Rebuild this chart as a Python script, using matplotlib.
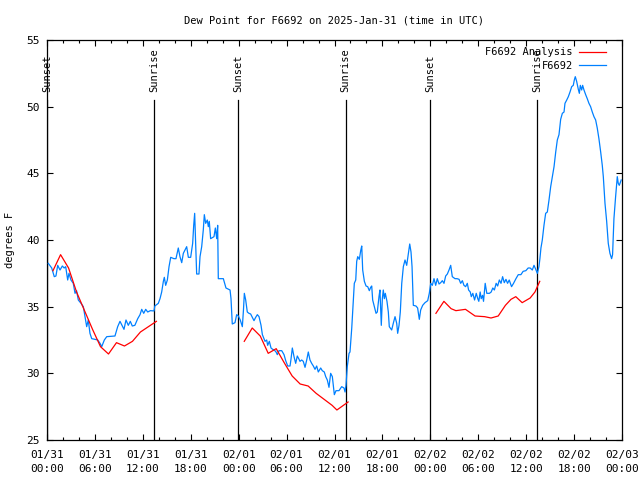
import matplotlib
matplotlib.use("Agg")
import matplotlib.pyplot as plt
import matplotlib.transforms as mtransforms

plt.rcParams['font.family'] = ['DejaVu Sans Mono']

title = "Dew Point for F6692 on 2025-Jan-31 (time in UTC)"
ylabel = "degrees F"

# hours since 2025-01-31 00:00 UTC
blue_h = [0.16, 0.59, 0.91, 1.12, 1.34, 1.63, 1.92, 2.15, 2.34, 2.59, 2.75, 3.0, 3.29, 3.51, 3.7, 3.92,
          4.26, 4.55, 4.76, 4.97, 5.17, 5.38, 5.6, 6.01, 6.35, 6.64, 6.85, 7.18, 7.48, 8.51, 8.85, 9.14,
          9.43, 9.64, 9.89, 10.18, 10.43, 10.68, 11.0, 11.36, 11.65, 11.86, 12.11, 12.36, 12.61, 12.94,
          13.4, 13.5, 13.94, 14.15, 14.36, 14.57, 14.69, 14.86, 15.07, 15.28, 15.49, 15.9, 16.15, 16.32,
          16.44, 16.65, 16.87, 17.07, 17.28, 17.49, 17.7, 17.99, 18.24, 18.37, 18.49, 18.62, 18.74, 19.03,
          19.16, 19.37, 19.57, 19.7, 19.87, 20.07, 20.2, 20.32, 20.49, 20.91, 21.08, 21.25, 21.37, 21.45,
          22.08, 22.41, 22.92, 23.04, 23.2, 23.54, 23.75, 23.96, 24.2, 24.46, 24.6, 24.71, 24.88, 25.08,
          25.29, 25.5, 25.71, 25.92, 26.13, 26.34, 26.55, 26.8, 26.97, 27.17, 27.3, 27.51, 27.63, 27.84,
          28.05, 28.26, 28.46, 28.68, 28.84, 29.05, 29.39, 29.68, 29.89, 30.14, 30.43, 30.55, 30.72, 30.93,
          31.14, 31.34, 31.52, 31.68, 31.89, 32.09, 32.31, 32.52, 32.72, 32.93, 33.14, 33.35, 33.56, 33.77,
          33.97, 34.27, 34.47, 34.72, 34.9, 35.1, 35.31, 35.52, 35.73, 35.98, 36.19, 36.56, 36.9, 37.19,
          37.32, 37.44, 37.6, 37.82, 37.94, 38.16, 38.36, 38.48, 38.66, 38.78, 38.91, 39.11, 39.28, 39.41,
          39.53, 39.74, 39.95, 40.16, 40.36, 40.53, 40.66, 40.78, 40.99, 41.2, 41.36, 41.57, 41.69, 41.86,
          41.99, 42.11, 42.24, 42.36, 42.57, 42.74, 42.86, 43.16, 43.36, 43.58, 43.79, 43.91, 44.08, 44.24,
          44.42, 44.62, 44.83, 45.04, 45.25, 45.42, 45.58, 45.71, 45.87, 46.2, 46.41, 46.62, 46.79, 47.04,
          47.33, 47.67, 47.87, 48.05, 48.25, 48.46, 48.67, 48.87, 49.09, 49.3, 49.5, 49.71, 49.92, 50.13,
          50.34, 50.55, 50.75, 51.09, 51.35, 51.6, 51.8, 52.01, 52.21, 52.42, 52.63, 52.79, 53.0, 53.13,
          53.32, 53.54, 53.75, 53.94, 54.07, 54.24, 54.37, 54.54, 54.66, 54.87, 55.07, 55.4, 55.62, 55.82,
          56.02, 56.24, 56.43, 56.64, 56.85, 57.05, 57.26, 57.47, 57.67, 57.88, 58.17, 58.42, 58.72, 59.01,
          59.34, 59.62, 59.96, 60.25, 60.5, 60.77, 60.98, 61.2, 61.4, 61.6, 61.72, 61.85, 62.02, 62.23,
          62.44, 62.65, 62.86, 63.07, 63.28, 63.49, 63.7, 63.9, 64.11, 64.32, 64.53, 64.74, 64.86, 65.08,
          65.28, 65.49, 65.7, 65.9, 66.03, 66.15, 66.32, 66.53, 66.66, 66.78, 66.95, 67.07, 67.24, 67.45,
          67.65, 67.86, 68.07, 68.28, 68.49, 68.7, 68.9, 69.11, 69.33, 69.53, 69.66, 69.87, 70.08, 70.28,
          70.49, 70.7, 70.82, 70.99, 71.2, 71.41, 71.53, 71.66, 71.9]
blue_v = [38.25, 37.9, 37.25, 37.3, 38.1, 37.75, 38.05, 37.9, 38.0, 37.0, 37.5, 37.0, 36.75, 36.0, 36.2, 35.5,
          35.25, 35.0, 34.25, 33.5, 34.0, 33.0, 32.6, 32.55, 32.5, 32.25, 32.0, 32.5, 32.75, 32.8, 33.5, 33.9,
          33.55, 33.3, 34.0, 33.6, 33.9, 33.55, 33.6, 34.1, 34.4, 34.8, 34.5, 34.8, 34.6, 34.7,
          34.68, 35.05, 35.25, 35.6, 36.1, 36.9, 37.2, 36.6, 37.0, 38.0, 38.7, 38.6, 38.6, 39.05,
          39.4, 38.75, 38.3, 39.0, 39.25, 39.5, 38.7, 38.7, 39.75, 41.1, 42.0, 39.75, 37.45, 37.45,
          38.75, 39.5, 40.75, 41.9, 41.25, 41.5, 41.0, 41.4, 40.1, 40.25, 40.9, 40.1, 41.1, 37.1,
          37.1, 36.4, 36.25, 35.6, 33.7, 33.8, 34.4, 34.3, 34.0, 33.5, 34.75, 36.0, 35.5, 34.6,
          34.5, 34.45, 34.2, 33.95, 34.2, 34.4, 34.25, 33.6, 32.9, 32.6, 32.4, 32.5, 32.1, 32.4,
          31.9, 31.8, 31.75, 31.6, 31.4, 31.7, 31.7, 31.4, 30.95, 30.55, 30.55, 31.05, 31.9, 31.25,
          30.75, 31.3, 31.1, 30.9, 31.0, 30.9, 30.45, 31.0, 31.6, 31.0, 30.75, 30.55, 30.3, 30.55,
          30.1, 30.4, 30.2, 30.1, 29.75, 29.5, 28.95, 30.0, 29.75, 28.4, 28.7, 28.7, 29.0, 28.9,
          28.6, 29.1, 30.5, 31.5, 31.6, 33.4, 35.5, 36.75, 37.0, 38.4, 38.75, 38.55, 39.2, 39.55,
          37.75, 36.9, 36.55, 36.5, 36.2, 36.45, 36.55, 35.5, 35.0, 34.5, 34.6, 35.75, 36.25, 33.6,
          35.6, 36.25, 35.6, 36.0, 35.4, 34.6, 33.5, 33.25, 33.75, 34.25, 33.75, 33.0, 33.6, 34.6,
          36.75, 38.0, 38.5, 38.1, 39.0, 39.7, 39.1, 38.0, 35.1, 35.05, 34.9, 34.05, 34.75, 35.1,
          35.3, 35.45, 36.0, 36.75, 36.6, 37.1, 36.6, 37.1, 36.7, 36.8, 36.95, 36.75, 37.3, 37.45,
          37.75, 38.1, 37.25, 37.1, 37.1, 37.05, 36.75, 36.95, 36.6, 36.5, 36.75, 36.25, 36.1, 35.75,
          36.0, 35.5, 36.0, 35.6, 35.4, 36.1, 35.6, 35.85, 35.4, 36.75, 36.0, 36.0, 36.1, 36.4,
          36.25, 36.75, 36.55, 37.0, 36.75, 37.25, 36.8, 37.05, 36.75, 37.0, 36.5, 36.75, 37.1, 37.4,
          37.4, 37.65, 37.7, 37.9, 37.9, 37.75, 38.1, 37.8, 37.5, 38.0, 38.6, 39.4, 40.0, 41.1,
          42.0, 42.1, 43.0, 44.0, 44.75, 45.5, 46.6, 47.5, 47.9, 49.05, 49.5, 49.6, 50.25, 50.5,
          50.75, 51.1, 51.5, 51.6, 52.0, 52.25, 51.9, 51.3, 51.0, 51.6, 51.25, 51.6, 51.25, 50.9,
          50.6, 50.25, 50.0, 49.6, 49.25, 49.0, 48.4, 47.6, 46.6, 45.6, 44.75, 42.75, 41.4, 39.75,
          39.0, 38.6, 38.9, 41.6, 43.25, 44.75, 44.25, 44.1, 44.5]

# analysis (three separate segments)
red_h1 = [0.75, 1.7, 2.7, 3.7, 4.7, 5.7, 6.7, 7.7, 8.7, 9.7, 10.7, 11.7, 12.7, 13.7]
red_v1 = [37.7, 38.9, 37.9, 36.1, 34.7, 33.3, 32.0, 31.45, 32.3, 32.05, 32.4, 33.1, 33.5, 33.9]
red_h2 = [24.7, 25.7, 26.7, 27.7, 28.7, 29.7, 30.7, 31.7, 32.7, 33.7, 34.7, 35.7, 36.3, 37.0, 37.7]
red_v2 = [32.4, 33.4, 32.8, 31.5, 31.85, 30.8, 29.8, 29.2, 29.05, 28.5, 28.05, 27.6, 27.25, 27.55, 27.85]
red_h3 = [48.7, 49.7, 50.6, 51.2, 52.4, 53.6, 54.8, 55.6, 56.5, 57.4, 58.1, 58.7, 59.5, 60.5, 61.1, 61.7]
red_v3 = [34.5, 35.4, 34.85, 34.7, 34.8, 34.3, 34.25, 34.15, 34.3, 35.1, 35.55, 35.75, 35.3, 35.65, 36.1, 36.9]

event_h = [0.0, 13.44, 23.96, 37.4, 47.98, 61.4]
event_names = ["Sunset", "Sunrise", "Sunset", "Sunrise", "Sunset", "Sunrise"]

xtick_h = [0, 6, 12, 18, 24, 30, 36, 42, 48, 54, 60, 66, 72]
xtick_labels = ["01/31\n00:00", "01/31\n06:00", "01/31\n12:00", "01/31\n18:00",
                "02/01\n00:00", "02/01\n06:00", "02/01\n12:00", "02/01\n18:00",
                "02/02\n00:00", "02/02\n06:00", "02/02\n12:00", "02/02\n18:00",
                "02/03\n00:00"]
yticks = [25, 30, 35, 40, 45, 50, 55]

fig = plt.figure(figsize=(6.4, 4.8), dpi=100)
ax = fig.add_axes([47/640, 40/480, 575/640, 400/480])

red = '#ff0000'
blue = '#0080ff'
ax.plot(red_h1, red_v1, color=red, lw=0.9, label="F6692 Analysis", zorder=4)
ax.plot(red_h2, red_v2, color=red, lw=0.9, zorder=4)
ax.plot(red_h3, red_v3, color=red, lw=0.9, zorder=4)
ax.plot(blue_h, blue_v, color=blue, lw=0.9, label="F6692", zorder=3)

trans = mtransforms.blended_transform_factory(ax.transData, ax.transAxes)
for h, name in zip(event_h, event_names):
    ax.plot([h, h], [0, 0.85], transform=trans, color='black', lw=0.9, zorder=2)
    ax.text(h, 0.87, name, transform=trans, rotation=90, ha='center', va='bottom',
            fontsize=7.5, zorder=5)

ax.set_xlim(0, 72)
ax.set_ylim(25, 55)
ax.set_xticks(xtick_h)
ax.set_xticklabels(xtick_labels, fontsize=8, linespacing=1.55)
ax.set_xticks(list(range(0, 73, 2)), minor=True)
ax.set_yticks(yticks)
ax.set_yticklabels([str(v) for v in yticks], fontsize=8)
ax.tick_params(which='both', direction='in', top=True, right=True, width=0.8)
ax.tick_params(which='major', length=4.5)
ax.tick_params(axis='x', which='major', pad=7)
ax.tick_params(axis='y', which='major', pad=5)
ax.tick_params(which='minor', length=2.5)
for s in ax.spines.values():
    s.set_linewidth(0.9)

ax.set_title(title, fontsize=7.5, pad=12)
ax.set_ylabel(ylabel, fontsize=7.5, labelpad=8)

leg = ax.legend(loc='upper right', frameon=False, markerfirst=False, handlelength=2.6,
                fontsize=7.5, labelspacing=0.35, borderaxespad=0.3, handletextpad=0.6,
                bbox_to_anchor=(0.985, 1.0))
for t in leg.get_texts():
    t.set_ha('right')

fig.savefig("out.png", dpi=100)
